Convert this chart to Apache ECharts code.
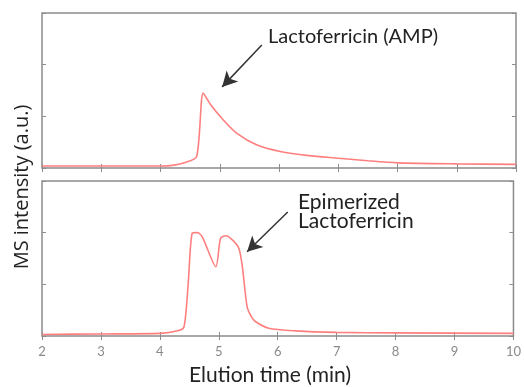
<!DOCTYPE html>
<html>
<head>
<meta charset="utf-8">
<script src="https://cdn.jsdelivr.net/npm/echarts@6/dist/echarts.min.js"></script>
<style>
  html, body { margin: 0; padding: 0; background: #fff; }
  #chart { width: 524px; height: 387px; }
</style>
</head>
<body>
<div id="chart"></div>
<script>
// Elution time (min) and MS intensity
const topTime = [2, 3, 4, 4.2, 4.4, 4.61, 4.72, 4.85, 5.06, 5.29, 5.62, 6.02, 6.5, 7.0, 7.5, 8.0, 9.0, 10]
const topIntensity = [0.04, 0.04, 0.04, 0.05, 0.1, 0.22, 1.45, 1.22, 0.93, 0.67, 0.45, 0.32, 0.24, 0.19, 0.14, 0.1, 0.08, 0.07]

const bottomTime = [2, 3, 4, 4.3, 4.41, 4.48, 4.55, 4.64, 4.72, 4.95, 5.03, 5.12, 5.23, 5.34, 5.4, 5.48, 5.55, 5.62, 5.85, 6.3, 7, 8, 10]
const bottomIntensity = [0.03, 0.04, 0.05, 0.1, 0.18, 1.0, 1.99, 2.0, 1.92, 1.34, 1.89, 1.94, 1.86, 1.7, 1.34, 0.57, 0.38, 0.28, 0.15, 0.1, 0.07, 0.06, 0.05]

const xTicks = [2, 3, 4, 5, 6, 7, 8, 9, 10]

const lineColor = "#ff7f7f"
const boxColor = "#8c8c8c"
const font = "Lato"

const chart = echarts.init(document.getElementById("chart"))

function xAxisFor(gridIndex, showLabels, position) {
  return {
    type: "value",
    gridIndex,
    position,
    min: xTicks[0],
    max: xTicks[xTicks.length - 1],
    interval: 1,
    axisLine: { show: false },
    axisTick: { show: true, inside: true, length: 4, lineStyle: { color: boxColor } },
    axisLabel: {
      show: showLabels,
      color: "#8a8a8a",
      fontSize: 13,
      fontFamily: font,
      margin: 9,
    },
    splitLine: { show: false },
  }
}

function yAxisFor(gridIndex, position) {
  return {
    type: "value",
    gridIndex,
    position,
    min: 0,
    max: 3,
    interval: 1,
    axisLine: { show: false },
    axisTick: { show: true, inside: true, length: 4, lineStyle: { color: boxColor } },
    axisLabel: { show: false },
    splitLine: { show: false },
  }
}

const arrowStyle = { color: "#333", width: 1.5, type: "solid" }

const option = {
  animation: false,
  grid: [
    { left: 42, right: 8, top: 13, height: 155, show: true, borderColor: boxColor, borderWidth: 1.5 },
    { left: 42, right: 8, top: 181, height: 155, show: true, borderColor: boxColor, borderWidth: 1.5 },
  ],
  xAxis: [
    xAxisFor(0, false, "bottom"),
    xAxisFor(0, false, "top"),
    xAxisFor(1, true, "bottom"),
    xAxisFor(1, false, "top"),
  ],
  yAxis: [
    yAxisFor(0, "left"),
    yAxisFor(0, "right"),
    yAxisFor(1, "left"),
    yAxisFor(1, "right"),
  ],
  series: [
    {
      type: "line",
      xAxisIndex: 0,
      yAxisIndex: 0,
      data: topTime.map((t, i) => [t, topIntensity[i]]),
      showSymbol: false,
      smooth: 0.25,
      lineStyle: { color: lineColor, width: 1.6 },
      markLine: {
        silent: true,
        symbol: ["none", "arrow"],
        symbolSize: [12, 15],
        lineStyle: arrowStyle,
        label: { show: false },
        data: [[{ coord: [5.71, 2.38] }, { coord: [5.04, 1.57] }]],
      },
    },
    {
      type: "line",
      xAxisIndex: 2,
      yAxisIndex: 2,
      data: bottomTime.map((t, i) => [t, bottomIntensity[i]]),
      showSymbol: false,
      smooth: 0.25,
      lineStyle: { color: lineColor, width: 1.6 },
      markLine: {
        silent: true,
        symbol: ["none", "arrow"],
        symbolSize: [12, 15],
        lineStyle: arrowStyle,
        label: { show: false },
        data: [[{ coord: [6.17, 2.4] }, { coord: [5.48, 1.63] }]],
      },
    },
  ],
  graphic: [
    {
      type: "text",
      left: 268,
      top: 27,
      style: { text: "Lactoferricin (AMP)", fill: "#222", font: `20px ${font}` },
    },
    {
      type: "text",
      left: 298,
      top: 192,
      style: { text: "Epimerized\nLactoferricin", fill: "#222", font: `21px ${font}`, lineHeight: 19 },
    },
    {
      type: "text",
      left: 189,
      top: 365,
      style: { text: "Elution time (min)", fill: "#222", font: `21px ${font}` },
    },
    {
      type: "text",
      x: 22,
      y: 187,
      rotation: Math.PI / 2,
      style: {
        text: "MS intensity (a.u.)",
        fill: "#222",
        font: `20px "Open Sans"`,
        align: "center",
        verticalAlign: "middle",
      },
    },
  ],
}

chart.setOption(option)
</script>
</body>
</html>
